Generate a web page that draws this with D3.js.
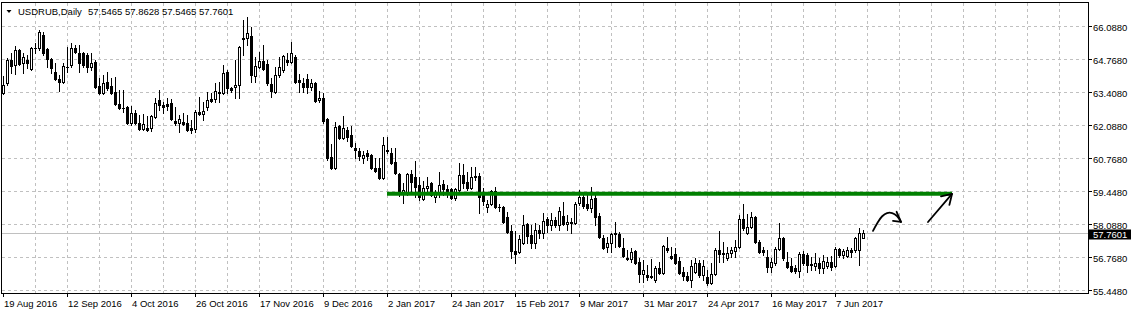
<!DOCTYPE html>
<html>
<head>
<meta charset="utf-8">
<script src="https://cdn.jsdelivr.net/npm/d3@7"></script>
<style>
  html, body { margin: 0; padding: 0; background: #fff; }
  svg { display: block; font-family: "Liberation Sans", Arial, sans-serif; }
</style>
</head>
<body>
<svg id="chart" width="1131" height="314"></svg>
<script>
////////////////////////////
//  chart data
////////////////////////////
var symbol = "USDRUB,Daily";
var lastQuote = [57.5465, 57.8628, 57.5465, 57.7601];   // O H L C of the last bar

// daily bars, [open, high, low, close], first bar = 19 Aug 2016
var ohlc = [
  [63.39,64.07,63.35,63.71],[63.79,64.80,63.71,64.72],[64.72,65.00,64.19,64.48],[64.52,65.28,64.15,65.12],
  [65.12,65.16,64.52,64.56],[64.60,65.00,64.19,64.84],[64.72,64.92,64.39,64.60],[64.35,65.24,64.31,65.20],
  [65.20,65.40,65.00,65.18],[65.20,65.93,65.12,65.85],[65.72,65.85,64.92,65.00],[65.16,65.20,64.44,64.76],
  [64.76,64.80,64.19,64.39],[64.23,64.60,63.91,63.95],[63.95,64.11,63.47,63.83],[63.83,64.60,63.79,64.48],
  [64.44,65.24,64.23,64.42],[64.52,65.40,64.44,65.20],[65.20,65.32,65.00,65.04],[65.00,65.32,64.23,64.60],
  [65.00,65.04,64.44,64.52],[64.92,65.00,64.23,64.44],[64.44,65.00,64.31,64.60],[64.64,64.72,63.59,63.63],
  [63.67,63.99,63.35,63.39],[63.39,64.11,63.35,63.79],[63.83,64.23,63.51,63.59],[63.67,63.99,63.35,63.39],
  [63.43,64.03,62.90,62.94],[62.94,63.51,62.74,62.78],[62.78,63.51,62.62,62.77],[62.82,62.86,62.14,62.18],
  [62.18,62.86,62.10,62.58],[62.58,62.70,62.14,62.18],[62.18,62.50,61.90,61.94],[61.94,62.54,61.90,62.14],
  [61.98,62.46,61.86,61.90],[61.98,62.50,61.86,62.46],[62.42,63.19,62.38,62.99],[63.11,63.51,62.70,62.90],
  [62.90,63.03,62.58,62.82],[62.94,63.19,62.70,62.86],[62.99,63.15,62.30,62.34],[62.26,62.82,62.10,62.18],
  [62.18,62.50,61.82,62.34],[62.22,62.58,62.10,62.14],[62.18,62.50,61.86,61.90],[61.98,62.30,61.78,61.90],
  [61.94,62.70,61.82,62.62],[62.62,63.23,62.50,62.54],[62.54,63.03,62.30,62.66],[62.82,63.43,62.70,63.11],
  [63.15,63.39,63.03,63.07],[63.15,63.79,63.03,63.47],[63.43,63.83,63.03,63.39],[63.39,64.52,63.35,64.19],
  [64.23,64.31,63.39,63.59],[63.59,63.63,63.43,63.51],[63.63,64.72,63.19,63.71],[63.71,65.28,63.19,65.24],
  [65.60,66.33,64.92,65.56],[65.60,66.45,65.32,65.81],[65.68,66.05,63.83,64.11],[64.07,64.84,63.83,64.48],
  [64.44,65.04,64.39,64.68],[64.68,65.32,64.31,64.35],[64.56,64.72,63.71,63.79],[63.75,63.99,63.23,63.47],
  [63.43,64.44,63.39,64.11],[64.11,64.84,64.03,64.44],[64.31,64.92,64.23,64.88],[64.72,65.00,64.52,64.64],
  [64.64,65.44,64.60,65.00],[64.84,64.92,63.79,63.83],[63.91,64.15,63.43,63.83],[63.79,63.99,63.43,63.63],
  [63.95,64.15,63.39,63.63],[63.63,63.95,63.51,63.79],[63.79,63.83,63.03,63.07],[63.11,63.47,63.03,63.19],
  [63.19,63.39,62.18,62.26],[62.34,62.38,60.69,60.77],[60.81,61.33,60.32,60.37],[60.37,62.22,60.32,62.02],
  [62.06,62.10,61.53,61.57],[61.57,62.46,61.53,61.98],[61.90,62.02,61.45,61.61],[61.70,62.06,61.21,61.25],
  [61.17,61.37,60.77,61.09],[61.05,61.17,60.69,60.85],[60.77,61.05,60.57,60.89],[60.97,61.09,60.69,60.85],
  [60.89,60.93,60.32,60.37],[60.37,60.77,60.20,60.24],[60.37,60.77,59.92,59.96],[59.96,61.61,59.92,61.29],
  [61.05,61.61,60.97,61.07],[60.97,61.17,60.53,60.57],[60.61,61.17,60.12,60.16],[60.12,60.16,59.24,59.32],
  [59.32,59.76,58.95,59.48],[59.32,60.16,59.28,60.12],[60.12,60.28,59.32,59.80],[60.00,60.65,59.20,59.60],
  [59.68,60.00,59.08,59.20],[59.12,59.84,59.08,59.56],[59.56,60.00,59.36,59.64],[59.76,59.80,59.24,59.28],
  [59.20,59.48,59.00,59.40],[59.40,60.20,59.20,59.68],[59.72,59.88,59.28,59.52],[59.52,59.68,59.20,59.44],
  [59.52,59.56,59.12,59.16],[59.16,59.56,59.08,59.52],[59.48,60.57,59.40,60.08],[60.08,60.53,59.56,59.76],
  [59.80,60.20,59.48,59.56],[59.56,60.41,59.52,60.00],[60.04,60.41,59.88,60.00],[60.04,60.16,58.55,59.20],
  [59.32,59.56,58.87,59.04],[58.79,59.08,58.59,58.91],[58.91,59.48,58.87,59.44],[59.44,59.60,58.75,58.79],
  [58.79,58.91,58.63,58.77],[58.79,58.83,58.15,58.19],[58.39,58.59,57.75,57.79],[57.83,58.07,56.74,57.02],
  [57.02,57.83,56.54,56.90],[56.98,57.67,56.94,57.50],[57.34,58.47,57.30,58.07],[58.11,58.15,57.34,57.62],
  [57.67,58.07,57.14,57.34],[57.34,58.15,57.14,57.87],[57.87,58.07,57.54,57.75],[57.75,58.55,57.54,58.23],
  [58.31,58.39,57.79,58.07],[58.07,58.55,57.87,58.27],[58.27,58.39,57.99,58.07],[58.07,58.79,57.87,58.63],
  [58.43,59.00,58.07,58.11],[58.11,58.47,57.87,58.19],[58.15,58.35,57.75,58.18],[58.15,59.00,58.11,58.91],
  [58.95,59.48,58.87,59.20],[59.20,59.40,58.75,58.83],[58.91,59.28,58.67,58.75],[58.75,59.60,58.59,59.12],
  [59.16,59.36,58.07,58.39],[58.43,58.55,57.54,57.58],[57.54,57.67,57.10,57.14],[57.18,57.58,56.98,57.34],
  [57.34,57.75,56.98,57.71],[57.71,58.19,57.18,57.73],[57.71,57.79,57.18,57.22],[57.14,57.54,56.78,56.82],
  [56.74,57.06,56.66,56.70],[56.70,57.14,56.58,56.98],[57.02,57.06,56.50,56.54],[56.58,56.74,55.77,56.09],
  [56.09,56.66,55.77,56.25],[56.05,56.46,55.85,55.97],[56.01,56.70,55.93,55.97],[55.85,56.42,55.77,56.34],
  [56.34,56.58,56.09,56.13],[56.13,57.26,56.09,57.22],[57.14,57.58,56.98,57.06],[56.82,57.18,56.70,56.74],
  [56.90,57.14,56.50,56.54],[56.62,56.78,56.09,56.13],[56.17,56.38,55.85,56.01],[56.01,56.17,55.81,55.85],
  [55.85,56.66,55.57,56.42],[56.17,56.74,56.13,56.54],[56.54,56.66,55.97,56.05],[56.05,56.66,55.85,56.42],
  [55.97,56.25,55.65,55.73],[55.73,56.54,55.69,56.09],[56.09,57.14,56.05,57.06],[57.06,57.83,56.58,56.90],
  [56.94,57.38,56.58,56.90],[56.74,57.18,56.66,56.94],[56.94,57.18,56.78,57.06],[57.02,57.46,56.78,57.18],
  [57.18,58.47,57.14,58.31],[58.31,58.91,57.87,57.95],[57.75,58.51,57.71,57.99],[57.99,58.59,57.95,58.39],
  [58.39,58.43,57.34,57.38],[57.38,57.46,56.94,56.98],[57.06,57.18,56.86,56.98],[56.78,57.06,56.17,56.38],
  [56.38,56.74,56.17,56.58],[56.54,57.18,56.46,57.10],[57.10,58.15,57.06,57.54],[57.54,57.58,56.66,56.74],
  [56.58,56.98,56.34,56.38],[56.42,56.74,56.17,56.21],[56.34,56.46,56.13,56.21],[56.21,56.98,55.97,56.90],
  [56.90,57.02,56.46,56.54],[56.86,56.94,56.17,56.46],[56.50,56.78,56.25,56.46],[56.42,56.94,56.25,56.54],
  [56.54,56.74,56.13,56.34],[56.34,56.86,56.13,56.62],[56.42,56.78,56.34,56.58],[56.58,56.82,56.25,56.38],
  [56.42,57.18,56.38,57.10],[57.10,57.14,56.78,56.86],[56.86,57.10,56.74,57.02],[56.82,57.18,56.78,57.06],
  [57.06,57.14,56.78,56.98],[57.06,57.58,56.98,57.54],[57.06,57.95,56.46,57.75],
  lastQuote
];

// price axis
var priceTicks = [55.448, 56.768, 58.088, 59.448, 60.768, 62.088, 63.408, 64.768, 66.088];

// time axis (a label every 16 bars)
var dateLabels = ["19 Aug 2016", "12 Sep 2016", "4 Oct 2016", "26 Oct 2016", "17 Nov 2016", "9 Dec 2016",
                  "2 Jan 2017", "24 Jan 2017", "15 Feb 2017", "9 Mar 2017", "31 Mar 2017", "24 Apr 2017",
                  "16 May 2017", "7 Jun 2017"];
var dateLabelBars = [0, 16, 32, 48, 64, 80, 96, 112, 128, 144, 160, 176, 192, 208];

// drawn objects: horizontal level and two hand arrows, in [bar, price]
var levelLine = [[96, 59.33], [237.25, 59.33]];
var arrowCurve = [[217.5, 57.83], [218.6, 58.15], [219.8, 58.42], [221, 58.55], [222.3, 58.55], [223.5, 58.43], [224.5, 58.19]];
var arrowCurveHead = [[223.4, 58.60], [224.5, 58.19], [222.5, 58.23]];
var arrowLine = [[231.25, 58.19], [237.25, 59.32]];
var arrowLineHead = [[234.5, 59.22], [237.25, 59.32], [236.6, 58.88]];

////////////////////////////
//  layout + scales
////////////////////////////
var W = 1131, H = 314;
var plotL = 1, plotT = 2, plotR = 1088, plotB = 293;

var x = d3.scaleLinear().domain([0, ohlc.length - 1]).range([3, 3 + 4 * (ohlc.length - 1)]);
var y = d3.scaleLinear().domain([55.448, 66.088]).range([290, 26]);
var px = v => Math.round(v - 0.1);

var svg = d3.select('#chart');

svg.append('rect').attr('width', W).attr('height', H).attr('fill', '#fff');

//// grid
var grid = svg.append('g')
  .attr('stroke', '#c0c0c0')
  .attr('stroke-dasharray', '3,3')
  .attr('shape-rendering', 'crispEdges');

grid.selectAll('.hgrid')
  .data(priceTicks)
  .enter()
  .append('line')
    .attr('x1', plotL + 1).attr('x2', plotR)
    .attr('y1', d => px(y(d)) + 0.5).attr('y2', d => px(y(d)) + 0.5);

var gridBars = d3.range(8, 300, 8).filter(b => x(b) < plotR - 1);
grid.selectAll('.vgrid')
  .data(gridBars)
  .enter()
  .append('line')
    .attr('x1', d => x(d) + 0.5).attr('x2', d => x(d) + 0.5)
    .attr('y1', plotT + 1).attr('y2', plotB);

//// current price line
var lastY = px(y(lastQuote[3])) + 0.5;
svg.append('line')
  .attr('x1', plotL + 1).attr('x2', plotR)
  .attr('y1', lastY).attr('y2', lastY)
  .attr('stroke', '#c0c0c0')
  .attr('shape-rendering', 'crispEdges');

//// candles
var bars = svg.append('g').attr('shape-rendering', 'crispEdges')
  .selectAll('.bar')
  .data(ohlc)
  .enter()
  .append('g')
    .classed('bar', true);

bars.append('line')
  .attr('x1', (d, i) => x(i) + 0.5)
  .attr('x2', (d, i) => x(i) + 0.5)
  .attr('y1', d => px(y(d[1])))
  .attr('y2', d => px(y(d[2])) + 1)
  .attr('stroke', '#000');

bars.append('rect')
  .attr('x', (d, i) => d[3] >= d[0] ? x(i) - 0.5 : x(i) - 1)
  .attr('y', d => px(y(Math.max(d[0], d[3]))) + (d[3] >= d[0] ? 0.5 : 0))
  .attr('width', d => d[3] >= d[0] ? 2 : 3)
  .attr('height', d => {
    var h = px(y(Math.min(d[0], d[3]))) - px(y(Math.max(d[0], d[3])));
    return d[3] >= d[0] ? Math.max(h, 0) : Math.max(h + 1, 1);
  })
  .attr('fill', d => d[3] >= d[0] ? '#fff' : '#000')
  .attr('stroke', d => d[3] >= d[0] ? '#000' : 'none');

//// drawn objects
var toXY = d3.line().x(d => x(d[0])).y(d => y(d[1]));

svg.append('path')
  .attr('d', toXY(levelLine))
  .attr('stroke', '#008000')
  .attr('stroke-width', 4)
  .attr('fill', 'none');

var arrows = svg.append('g')
  .attr('stroke', '#000')
  .attr('stroke-width', 1.8)
  .attr('stroke-linecap', 'round')
  .attr('stroke-linejoin', 'round')
  .attr('fill', 'none');

arrows.append('path').attr('d', d3.line().x(d => x(d[0])).y(d => y(d[1])).curve(d3.curveCatmullRom)(arrowCurve));
arrows.append('path').attr('d', toXY(arrowCurveHead));
arrows.append('path').attr('d', toXY(arrowLine));
arrows.append('path').attr('d', toXY(arrowLineHead));

//// frame
svg.append('rect')
  .attr('x', plotL + 0.5).attr('y', plotT + 0.5)
  .attr('width', plotR - plotL).attr('height', plotB - plotT)
  .attr('fill', 'none')
  .attr('stroke', '#000')
  .attr('shape-rendering', 'crispEdges');

//// price axis
var pAxis = svg.append('g').attr('font-size', '9.5px').attr('fill', '#000');
pAxis.selectAll('line')
  .data(priceTicks)
  .enter()
  .append('line')
    .attr('x1', plotR + 1).attr('x2', plotR + 4)
    .attr('y1', d => px(y(d)) + 0.5).attr('y2', d => px(y(d)) + 0.5)
    .attr('stroke', '#000')
    .attr('shape-rendering', 'crispEdges');
pAxis.selectAll('text')
  .data(priceTicks)
  .enter()
  .append('text')
    .attr('x', plotR + 5)
    .attr('y', d => px(y(d)) + 4.5)
    .text(d => d.toFixed(4));

// last price tag
svg.append('rect')
  .attr('x', plotR + 1).attr('y', lastY - 4)
  .attr('width', W - plotR - 1).attr('height', 10)
  .attr('fill', '#000');
svg.append('text')
  .attr('x', plotR + 5).attr('y', lastY + 4)
  .attr('font-size', '9.5px')
  .attr('fill', '#fff')
  .text(lastQuote[3].toFixed(4));

//// time axis
var tAxis = svg.append('g').attr('font-size', '9.5px').attr('fill', '#000');
tAxis.selectAll('line')
  .data(dateLabelBars)
  .enter()
  .append('line')
    .attr('x1', d => x(d) + 0.5).attr('x2', d => x(d) + 0.5)
    .attr('y1', plotB + 1).attr('y2', plotB + 4)
    .attr('stroke', '#000')
    .attr('shape-rendering', 'crispEdges');
tAxis.selectAll('text')
  .data(dateLabelBars)
  .enter()
  .append('text')
    .attr('x', d => x(d) + 1)
    .attr('y', plotB + 14)
    .text((d, i) => dateLabels[i]);

//// title
svg.append('path')
  .attr('d', 'M6.5,10 L11.5,10 L9,13 Z')
  .attr('fill', '#000');
svg.append('text')
  .attr('x', 18).attr('y', 15)
  .attr('font-size', '9.5px')
  .attr('fill', '#000')
  .text(symbol);
svg.append('text')
  .attr('x', 88).attr('y', 15)
  .attr('font-size', '9.5px')
  .attr('fill', '#000')
  .text(lastQuote.map(v => v.toFixed(4)).join(' '));
</script>
</body>
</html>
